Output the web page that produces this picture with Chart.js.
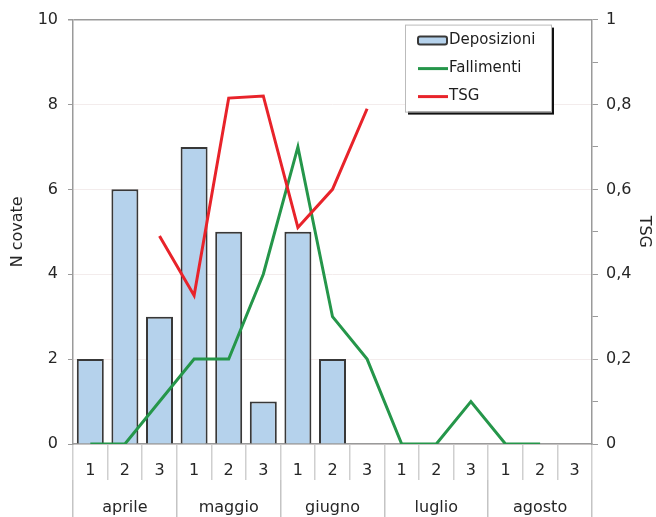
<!DOCTYPE html>
<html>
<head>
<meta charset="utf-8">
<script src="https://cdn.jsdelivr.net/npm/chart.js@4.4.1/dist/chart.umd.min.js"></script>
<style>
  html, body { margin: 0; padding: 0; background: #fff; }
  #wrap { width: 656px; height: 517px; }
</style>
</head>
<body>
<div id="wrap"><canvas id="chart"></canvas></div>
<script>
// decades within each month
const decades = ['1', '2', '3', '1', '2', '3', '1', '2', '3', '1', '2', '3', '1', '2', '3'];
const months = ['aprile', 'maggio', 'giugno', 'luglio', 'agosto'];

const deposizioni = [2, 6, 3, 7, 5, 1, 5, 2, 0, 0, 0, 0, 0, 0, 0];
const fallimenti = [0, 0, 1, 2, 2, 4, 7, 3, 2, 0, 0, 1, 0, 0, null];
const tsg = [null, null, 0.49, 0.35, 0.815, 0.82, 0.51, 0.6, 0.79, null, null, null, null, null, null];

const leftTicks = ['0', '2', '4', '6', '8', '10'];
const rightTicks = ['0', '0,2', '0,4', '0,6', '0,8', '1'];

const FONT = 'DejaVu Sans';
const TXT = '#262626';
const AXIS = '#9a9a9a';

// legend drawn inside the plot, top right
const boxLegend = {
    id: 'boxLegend',
    afterDraw(chart) {
        const ctx = chart.ctx;
        const a = chart.chartArea;
        const x = a.right - 187, y = a.top + 5, w = 146, h = 87;
        ctx.save();
        ctx.fillStyle = '#111';
        ctx.fillRect(x + 3, y + 3, w, h);
        ctx.fillStyle = '#fff';
        ctx.fillRect(x, y, w, h);
        ctx.strokeStyle = '#bbb';
        ctx.lineWidth = 1;
        ctx.strokeRect(x + 0.5, y + 0.5, w, h);
        ctx.font = '15px "' + FONT + '"';
        ctx.textBaseline = 'middle';
        chart.data.datasets.forEach(function (ds, i) {
            const cy = y + 16 + i * 28;
            if (ds.type === 'bar') {
                ctx.fillStyle = ds.backgroundColor;
                ctx.strokeStyle = ds.borderColor;
                ctx.lineWidth = 2;
                ctx.beginPath();
                ctx.roundRect(x + 13, cy - 4, 29, 8, 2);
                ctx.fill();
                ctx.stroke();
            } else {
                ctx.strokeStyle = ds.borderColor;
                ctx.lineWidth = 3;
                ctx.beginPath();
                ctx.moveTo(x + 13, cy);
                ctx.lineTo(x + 43, cy);
                ctx.stroke();
            }
            ctx.fillStyle = '#1e1e1e';
            ctx.fillText(ds.label, x + 44, cy);
        });
        ctx.restore();
    }
};

new Chart(document.getElementById('chart'), {
    data: {
        labels: decades,
        datasets: [
            {
                type: 'bar',
                label: 'Deposizioni',
                data: deposizioni,
                backgroundColor: '#b5d2ec',
                borderColor: '#383838',
                borderWidth: 2,
                barPercentage: 0.78,
                categoryPercentage: 1,
                yAxisID: 'y',
                xAxisID: 'x',
                order: 2
            },
            {
                type: 'line',
                label: 'Fallimenti',
                data: fallimenti,
                borderColor: '#25964a',
                borderWidth: 3,
                pointRadius: 0,
                tension: 0,
                yAxisID: 'y',
                xAxisID: 'x',
                order: 1
            },
            {
                type: 'line',
                label: 'TSG',
                data: tsg,
                borderColor: '#e8232a',
                borderWidth: 3,
                pointRadius: 0,
                tension: 0,
                yAxisID: 'y1',
                xAxisID: 'x',
                order: 0
            }
        ]
    },
    options: {
        responsive: true,
        maintainAspectRatio: false,
        animation: false,
        layout: { padding: { top: 19, left: 0, right: 0, bottom: 0 } },
        plugins: {
            legend: { display: false },
            tooltip: { enabled: false }
        },
        scales: {
            x: {
                type: 'category',
                position: 'bottom',
                weight: 0,
                offset: true,
                grid: {
                    offset: true,
                    drawOnChartArea: false,
                    tickLength: 36,
                    color: '#cfcfcf',
                    lineWidth: 1.5
                },
                border: { display: true, color: AXIS, width: 1.5 },
                ticks: {
                    autoSkip: false,
                    maxRotation: 0,
                    padding: -19,
                    color: TXT,
                    font: { family: FONT, size: 16 }
                },
                afterFit(s) { s.height = 36; }
            },
            x2: {
                type: 'category',
                labels: months,
                position: 'bottom',
                weight: 1,
                offset: true,
                grid: {
                    offset: true,
                    drawOnChartArea: false,
                    tickLength: 37,
                    color: '#c4c4c4',
                    lineWidth: 1.5
                },
                border: { display: false },
                ticks: {
                    autoSkip: false,
                    maxRotation: 0,
                    padding: -19,
                    color: TXT,
                    font: { family: FONT, size: 16 }
                },
                afterFit(s) { s.height = 37; }
            },
            y: {
                position: 'left',
                min: 0,
                max: 10,
                grid: {
                    color: function (c) { return c.tick.value === 10 ? AXIS : '#f3ecec'; },
                    tickColor: AXIS,
                    tickLength: 5,
                    lineWidth: function (c) { return c.tick.value === 10 ? 1.5 : 1; }
                },
                border: { display: true, color: AXIS, width: 1.5 },
                ticks: {
                    stepSize: 2,
                    padding: 10,
                    color: TXT,
                    font: { family: FONT, size: 16 },
                    callback: function (v) { return leftTicks[Math.round(v / 2)]; }
                },
                title: {
                    display: true,
                    text: 'N covate',
                    color: TXT,
                    font: { family: FONT, size: 16 },
                    padding: { top: 8 }
                },
                afterFit(s) { s.width = 73; }
            },
            y1: {
                position: 'right',
                min: 0,
                max: 1,
                grid: {
                    drawOnChartArea: false,
                    color: AXIS,
                    tickLength: 6
                },
                border: { display: true, color: AXIS, width: 1.5 },
                ticks: {
                    stepSize: 0.1,
                    padding: 8,
                    autoSkip: false,
                    color: TXT,
                    font: { family: FONT, size: 16 },
                    callback: function (v) {
                        const k = Math.round(v * 10);
                        return k % 2 === 0 ? rightTicks[k / 2] : '';
                    }
                },
                title: {
                    display: true,
                    text: 'TSG',
                    color: TXT,
                    font: { family: FONT, size: 16 },
                    padding: { top: 2 }
                },
                afterFit(s) { s.width = 64; }
            }
        }
    },
    plugins: [boxLegend]
});
</script>
</body>
</html>
